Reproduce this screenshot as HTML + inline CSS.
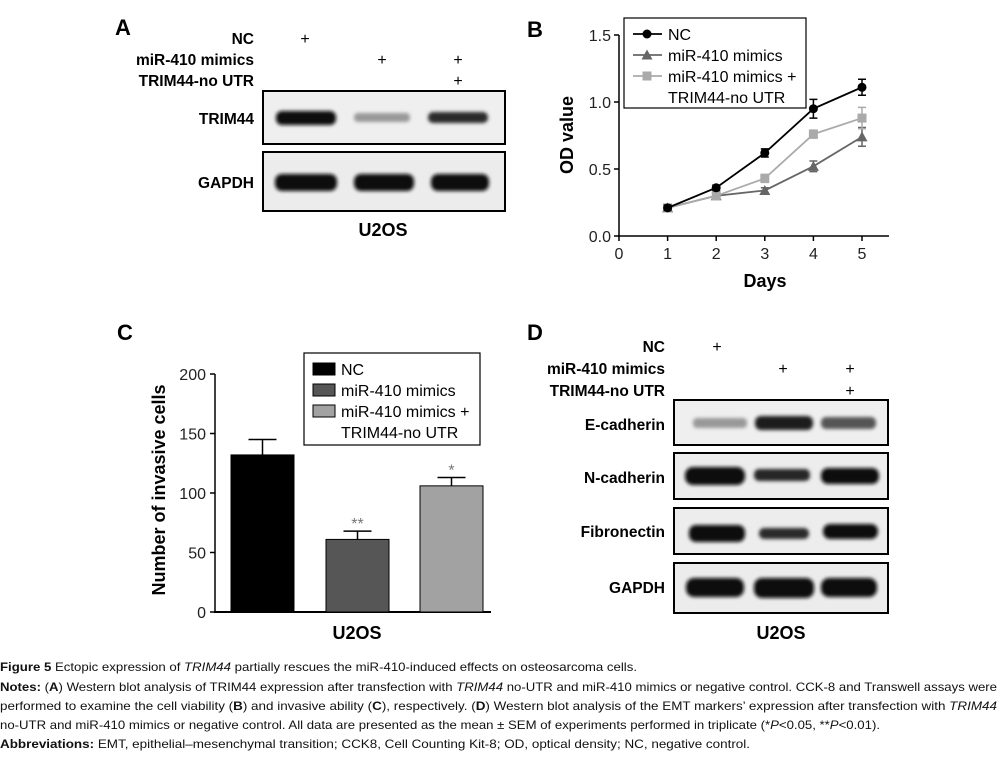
<!DOCTYPE html>
<html><head><meta charset="utf-8"><style>
html,body{margin:0;padding:0;background:#fff;}
svg{display:block;font-family:"Liberation Sans",Arial,sans-serif;}
.b{font-weight:bold;}
</style></head><body>
<svg id="fig" width="1007" height="758" viewBox="0 0 1007 758">
<defs>
<filter id="blur" x="-20%" y="-80%" width="140%" height="260%"><feGaussianBlur stdDeviation="1.8"/></filter>
</defs>
<!-- Panel A -->
<g>
<text x="115" y="35" font-size="22" class="b">A</text>
<g font-size="15.5" class="b" text-anchor="end">
<text x="254" y="44">NC</text>
<text x="254" y="65">miR-410 mimics</text>
<text x="254" y="86">TRIM44-no UTR</text>
<text x="254" y="124">TRIM44</text>
<text x="254" y="188">GAPDH</text>
</g>
<g font-size="16" text-anchor="middle">
<text x="305" y="44">+</text><text x="382" y="65">+</text><text x="458" y="65">+</text><text x="458" y="86">+</text>
</g>
<rect x="263" y="91" width="242" height="53" fill="#efefef" stroke="#000" stroke-width="2"/>
<rect x="263" y="152" width="242" height="59" fill="#ececec" stroke="#000" stroke-width="2"/>
<g filter="url(#blur)">
<rect x="276" y="111" width="60" height="14" rx="6" fill="#0a0a0a"/>
<rect x="354" y="113" width="56" height="9" rx="4" fill="#999"/>
<rect x="428" y="112" width="60" height="11" rx="5" fill="#2a2a2a"/>
<rect x="275" y="174" width="62" height="17" rx="7" fill="#111"/>
<rect x="354" y="174" width="60" height="17" rx="7" fill="#111"/>
<rect x="431" y="174" width="58" height="17" rx="7" fill="#111"/>
</g>
<text x="383" y="236" font-size="18" class="b" text-anchor="middle">U2OS</text>
</g>

<!-- Panel B -->
<g id="pb">
<text x="527" y="37" font-size="22" class="b">B</text>
<text transform="translate(573,135) rotate(-90)" font-size="18" class="b" text-anchor="middle">OD value</text>
<text x="765" y="287" font-size="18" class="b" text-anchor="middle">Days</text>
</g>

<!-- Panel C -->
<g id="pc">
<text x="117" y="340" font-size="22" class="b">C</text>
<text transform="translate(165,490) rotate(-90)" font-size="18" class="b" text-anchor="middle">Number of invasive cells</text>
<text x="357" y="639" font-size="18" class="b" text-anchor="middle">U2OS</text>
</g>

<!-- Panel D -->
<g>
<text x="527" y="340" font-size="22" class="b">D</text>
<g font-size="15.5" class="b" text-anchor="end">
<text x="665" y="352">NC</text>
<text x="665" y="374">miR-410 mimics</text>
<text x="665" y="396">TRIM44-no UTR</text>
<text x="665" y="430">E-cadherin</text>
<text x="665" y="483">N-cadherin</text>
<text x="665" y="537">Fibronectin</text>
<text x="665" y="593">GAPDH</text>
</g>
<g font-size="16" text-anchor="middle">
<text x="717" y="352">+</text><text x="783" y="374">+</text><text x="850" y="374">+</text><text x="850" y="396">+</text>
</g>
<rect x="674" y="400" width="214" height="45" fill="#efefef" stroke="#000" stroke-width="2"/>
<rect x="674" y="453" width="214" height="46" fill="#ededed" stroke="#000" stroke-width="2"/>
<rect x="674" y="508" width="214" height="46" fill="#ededed" stroke="#000" stroke-width="2"/>
<rect x="674" y="563" width="214" height="50" fill="#ececec" stroke="#000" stroke-width="2"/>
<g filter="url(#blur)">
<rect x="693" y="418" width="54" height="10" rx="4" fill="#999"/>
<rect x="755" y="416" width="58" height="14" rx="6" fill="#1e1e1e"/>
<rect x="821" y="417" width="55" height="12" rx="5" fill="#555"/>
<rect x="685" y="467" width="60" height="18" rx="8" fill="#080808"/>
<rect x="754" y="469" width="56" height="12" rx="5" fill="#252525"/>
<rect x="821" y="468" width="58" height="16" rx="7" fill="#111"/>
<rect x="689" y="525" width="56" height="17" rx="7" fill="#0a0a0a"/>
<rect x="759" y="528" width="50" height="11" rx="5" fill="#2a2a2a"/>
<rect x="823" y="524" width="55" height="15" rx="7" fill="#111"/>
<rect x="686" y="578" width="58" height="19" rx="8" fill="#0c0c0c"/>
<rect x="754" y="578" width="60" height="20" rx="8" fill="#0c0c0c"/>
<rect x="821" y="578" width="56" height="19" rx="8" fill="#0c0c0c"/>
</g>
<text x="781" y="639" font-size="18" class="b" text-anchor="middle">U2OS</text>
</g>

<!-- Caption -->
<g font-size="12" fill="#111">
<text x="0" y="671" textLength="637" lengthAdjust="spacingAndGlyphs"><tspan class="b">Figure 5</tspan> Ectopic expression of <tspan font-style="italic">TRIM44</tspan> partially rescues the miR-410-induced effects on osteosarcoma cells.</text>
<text x="0" y="691" textLength="997" lengthAdjust="spacingAndGlyphs"><tspan class="b">Notes:</tspan> (<tspan class="b">A</tspan>) Western blot analysis of TRIM44 expression after transfection with <tspan font-style="italic">TRIM44</tspan> no-UTR and miR-410 mimics or negative control. CCK-8 and Transwell assays were</text>
<text x="0" y="710" textLength="997" lengthAdjust="spacingAndGlyphs">performed to examine the cell viability (<tspan class="b">B</tspan>) and invasive ability (<tspan class="b">C</tspan>), respectively. (<tspan class="b">D</tspan>) Western blot analysis of the EMT markers’ expression after transfection with <tspan font-style="italic">TRIM44</tspan></text>
<text x="0" y="729" textLength="880" lengthAdjust="spacingAndGlyphs">no-UTR and miR-410 mimics or negative control. All data are presented as the mean ± SEM of experiments performed in triplicate (*<tspan font-style="italic">P</tspan>&lt;0.05, **<tspan font-style="italic">P</tspan>&lt;0.01).</text>
<text x="0" y="748" textLength="750" lengthAdjust="spacingAndGlyphs"><tspan class="b">Abbreviations:</tspan> EMT, epithelial–mesenchymal transition; CCK8, Cell Counting Kit-8; OD, optical density; NC, negative control.</text>
</g>
</svg>
<script>
// Panel B data
const bDays = [1, 2, 3, 4, 5];
const bNC = [0.21, 0.36, 0.62, 0.95, 1.11];
const bNCErr = [0.02, 0.02, 0.03, 0.07, 0.06];
const bMimics = [0.21, 0.30, 0.34, 0.52, 0.74];
const bMimicsErr = [0.01, 0.02, 0.02, 0.04, 0.07];
const bRescue = [0.21, 0.30, 0.43, 0.76, 0.88];
const bRescueErr = [0.01, 0.02, 0.03, 0.03, 0.08];
const bYTicks = [0.0, 0.5, 1.0, 1.5];
const bXTicks = [0, 1, 2, 3, 4, 5];
// Panel C data
const cGroups = ["NC", "miR-410 mimics", "miR-410 mimics + TRIM44-no UTR"];
const cValues = [132, 61, 106];
const cErrors = [13, 7, 7];
const cSig = ["", "**", "*"];
const cYTicks = [0, 50, 100, 150, 200];

const NS = "http://www.w3.org/2000/svg";
function mk(parent, tag, attrs, text) {
  const e = document.createElementNS(NS, tag);
  for (const k in attrs) e.setAttribute(k, attrs[k]);
  if (text !== undefined) e.textContent = text;
  parent.appendChild(e);
  return e;
}
// ---- Panel B ----
const pb = document.getElementById('pb');
const bx = d => 619 + d * 48.6;
const by = v => 236 - v * 134;
let ax = mk(pb, 'line', {x1: 619, y1: by(1.5), x2: 619, y2: 237, stroke: '#000', 'stroke-width': 1.5});


ax = mk(pb, 'line', {x1: 618, y1: 236, x2: 889, y2: 236, stroke: '#000', 'stroke-width': 1.5});


bYTicks.forEach(t => {
  mk(pb, 'line', {x1: 614, y1: by(t), x2: 619, y2: by(t), stroke: '#000', 'stroke-width': 1.5});
  const tl = mk(pb, 'text', {x: 611, y: by(t) + 6, 'font-size': 16, 'text-anchor': 'end', fill: '#222'}, t.toFixed(1));
  
  
});
bXTicks.forEach(t => {
  mk(pb, 'line', {x1: bx(t), y1: 236, x2: bx(t), y2: 241, stroke: '#000', 'stroke-width': 1.5});
  const tl = mk(pb, 'text', {x: bx(t), y: 259, 'font-size': 16, 'text-anchor': 'middle', fill: '#222'}, String(t));
  
  
});
function marker(g, type, x, y, color, s) {
  if (type === 'circle') return mk(g, 'circle', {cx: x, cy: y, r: s, fill: color});
  if (type === 'square') return mk(g, 'rect', {x: x - s, y: y - s, width: 2 * s, height: 2 * s, fill: color});
  return mk(g, 'polygon', {points: `${x},${y - s - 1} ${x - s - 1},${y + s} ${x + s + 1},${y + s}`, fill: color});
}
function series(vals, errs, color, type, name) {
  const g = mk(pb, 'g', {});
  
  
  const pts = vals.map((v, i) => bx(bDays[i]) + ',' + by(v)).join(' ');
  mk(g, 'polyline', {points: pts, fill: 'none', stroke: color, 'stroke-width': 1.8});
  vals.forEach((v, i) => {
    const x = bx(bDays[i]);
    const e = errs[i];
    mk(g, 'path', {d: `M${x},${by(v + e)}V${by(v - e)}M${x - 4},${by(v + e)}h8M${x - 4},${by(v - e)}h8`, stroke: color, 'stroke-width': 1.5, fill: 'none'});
    const m = marker(g, type, x, by(v), color, 4.5);
    
    
  });
}
series(bMimics, bMimicsErr, '#666', 'tri', 'series-mimics');
series(bRescue, bRescueErr, '#aaa', 'square', 'series-rescue');
series(bNC, bNCErr, '#000', 'circle', 'series-nc');
// legend B
const lgB = mk(pb, 'g', {});


mk(lgB, 'rect', {x: 624, y: 18, width: 182, height: 90, fill: '#fff', stroke: '#000', 'stroke-width': 1.2});
const lbItems = [['NC', '#000', 'circle', 34], ['miR-410 mimics', '#666', 'tri', 55], ['miR-410 mimics +', '#aaa', 'square', 76]];
lbItems.forEach(it => {
  const en = mk(lgB, 'g', {});
  
  
  mk(en, 'line', {x1: 633, y1: it[3], x2: 662, y2: it[3], stroke: it[1], 'stroke-width': 1.8});
  marker(en, it[2], 647, it[3], it[1], 4.5);
  mk(en, 'text', {x: 668, y: it[3] + 6, 'font-size': 16}, it[0]);
});
mk(lgB, 'text', {x: 668, y: 103, 'font-size': 16}, 'TRIM44-no UTR');

// ---- Panel C ----
const pc = document.getElementById('pc');
const cy = v => 612 - v * 1.19;
const cBarX = [231, 326, 420];
const cBarW = 63;
const cColors = ['#000', '#565656', '#a2a2a2'];
ax = mk(pc, 'line', {x1: 215, y1: cy(200), x2: 215, y2: 612, stroke: '#000', 'stroke-width': 1.5});


ax = mk(pc, 'line', {x1: 214, y1: 612, x2: 491, y2: 612, stroke: '#000', 'stroke-width': 2});


cYTicks.forEach(t => {
  mk(pc, 'line', {x1: 210, y1: cy(t), x2: 215, y2: cy(t), stroke: '#000', 'stroke-width': 1.5});
  const tl = mk(pc, 'text', {x: 206, y: cy(t) + 6, 'font-size': 16, 'text-anchor': 'end', fill: '#222'}, String(t));
  
  
});
cValues.forEach((v, i) => {
  const x = cBarX[i], xm = x + cBarW / 2, e = cErrors[i];
  mk(pc, 'path', {d: `M${xm},${cy(v)}V${cy(v + e)}M${xm - 14},${cy(v + e)}h28`, stroke: '#000', 'stroke-width': 1.5, fill: 'none'});
  const r = mk(pc, 'rect', {x: x, y: cy(v), width: cBarW, height: 612 - cy(v), fill: cColors[i], stroke: '#000', 'stroke-width': 1});
  
  
  if (cSig[i]) mk(pc, 'text', {x: xm, y: cy(v + e) - 2, 'font-size': 16, 'text-anchor': 'middle', fill: '#777'}, cSig[i]);
});
const lgC = mk(pc, 'g', {});


mk(lgC, 'rect', {x: 304, y: 353, width: 176, height: 92, fill: '#fff', stroke: '#000', 'stroke-width': 1.2});
const lcY = [369, 390, 411];
const lcText = ['NC', 'miR-410 mimics', 'miR-410 mimics +'];
lcText.forEach((t, i) => {
  const en = mk(lgC, 'g', {});
  
  
  mk(en, 'rect', {x: 313, y: lcY[i] - 6, width: 22, height: 12, fill: cColors[i], stroke: '#000', 'stroke-width': 1});
  mk(en, 'text', {x: 341, y: lcY[i] + 6, 'font-size': 16}, t);
});
mk(lgC, 'text', {x: 341, y: 438, 'font-size': 16}, 'TRIM44-no UTR');
</script>
</body></html>
